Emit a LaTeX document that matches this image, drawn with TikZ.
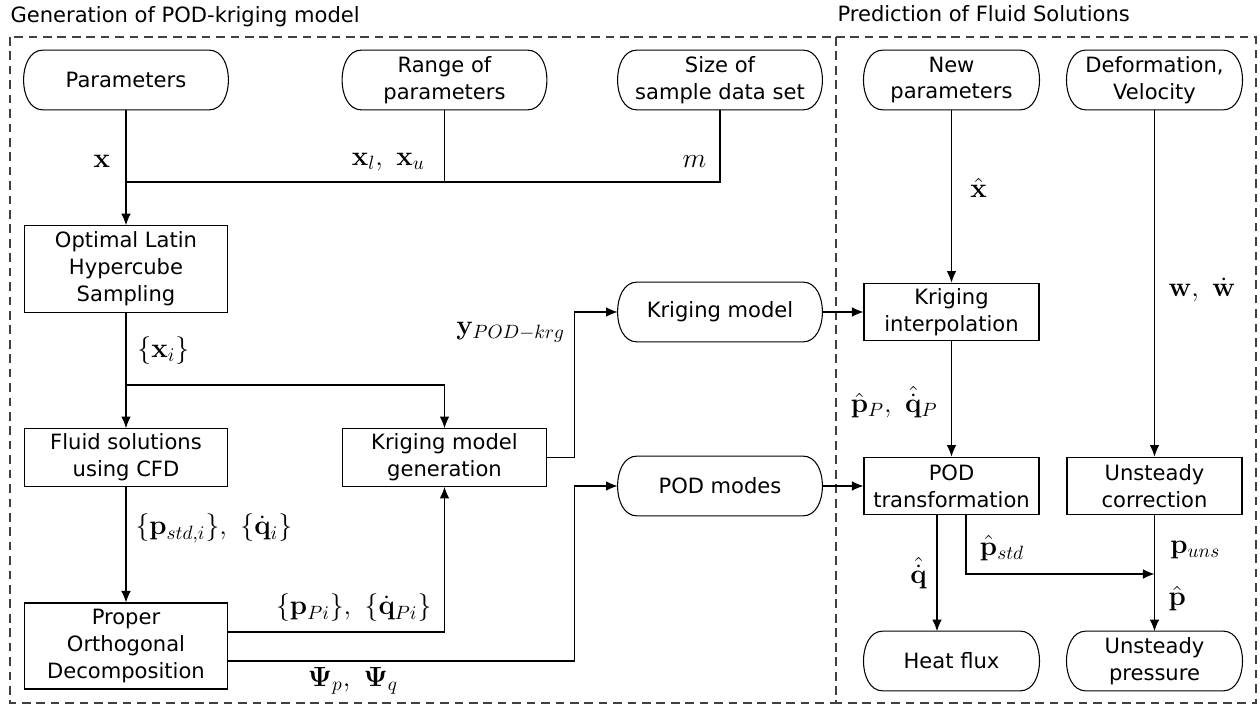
\documentclass[tikz,border=0pt]{standalone}
\usepackage{amsmath}
\usepackage[no-math]{fontspec}
\setmainfont{DejaVu Sans}
\usetikzlibrary{calc,arrows.meta}

\tikzset{
  term/.style={minimum width=106pt, minimum height=30.5pt, align=center, inner sep=2pt},
  blk/.style={draw, minimum width=106pt, minimum height=30pt, align=center, inner sep=2pt},
  lbl/.style={inner sep=0pt, font=\fontsize{14.4}{17}\selectfont},
  arr/.style={-{Latex[length=6pt,width=5pt]}},
  frame/.style={dash pattern=on 4.5pt off 3pt, black!75}
}

\begin{document}
\begin{tikzpicture}[x=0.52pt,y=-0.52pt,line width=0.55pt,font=\fontsize{10.95}{14}\selectfont]
	\useasboundingbox (0,0) rectangle (1260,705);
	% the two parts
	\draw[frame] (10,37) rectangle (836,703);
	\draw[frame] (836,37) rectangle (1256,703);
	\node[anchor=base west,inner sep=0pt] (tgen) at (10,23) {Generation of POD-kriging model};
	\node[anchor=base west,inner sep=0pt] (tpred) at (837,22) {Prediction of Fluid Solutions};

	% inputs
	\node[term] (param) at (126,80) {Parameters};
	\node[term] (range) at (444.5,80) {Range of\\parameters};
	\node[term] (size) at (720,80) {Size of\\sample data set};
	\node[term,minimum width=91pt] (newpar) at (951.5,80) {New\\parameters};
	\node[term,minimum width=91pt] (defvel) at (1154.5,80) {Deformation,\\Velocity};

	% steps
	\node[blk,minimum height=45pt] (olhs) at (126,269) {Optimal Latin\\Hypercube\\Sampling};
	\node[blk] (fluid) at (126,457.5) {Fluid solutions\\using CFD};
	\node[blk,minimum height=44.7pt] (pod) at (126,646) {Proper\\Orthogonal\\Decomposition};
	\node[blk] (kmg) at (444.5,457.5) {Kriging model\\generation};
	\node[term] (krgmodel) at (720,312) {Kriging model};
	\node[term] (podmodes) at (720,486) {POD modes};
	\node[blk,minimum width=91pt] (kinterp) at (951.5,312) {Kriging\\interpolation};
	\node[blk,minimum width=91pt] (podtrans) at (951.5,486) {POD\\transformation};
	\node[blk,minimum width=91pt] (uncorr) at (1154.5,486) {Unsteady\\correction};
	\node[term,minimum width=91pt] (heat) at (951.5,661) {Heat flux};
	\node[term,minimum width=91pt] (unpress) at (1154.5,661) {Unsteady\\pressure};

	% outlines of the terminals, elliptic ends
	\foreach \n in {param,range,size,newpar,defvel,krgmodel,podmodes,heat,unpress}
	\draw ([xshift=10pt]\n.north west) -- ([xshift=-10pt]\n.north east)
		.. controls ([xshift=3.33pt]\n.north east) and ([xshift=3.33pt]\n.south east) .. ([xshift=-10pt]\n.south east)
		-- ([xshift=10pt]\n.south west)
		.. controls ([xshift=-3.33pt]\n.south west) and ([xshift=-3.33pt]\n.north west) .. cycle;

	\coordinate (jx) at (126,182);
	\coordinate (jxi) at (126,385);
	\coordinate (jp) at (1154.5,574);

	% connectors
	\draw[arr] (param) -- node[lbl,pos=0.45,left=8pt] {$\mathbf{x}$} (olhs);
	\draw (range) -- node[lbl,pos=0.72,left=10pt] {$\mathbf{x}_l,\ \mathbf{x}_u$} (range |- jx);
	\draw (size) |- node[lbl,pos=0.36,left=6.8pt] {$m$} (jx);
	\draw[arr] (olhs) -- node[lbl,pos=0.33,right=5.7pt] {$\{\mathbf{x}_i\}$} (fluid);
	\draw[arr] (jxi) -| (kmg);
	\draw[arr] (fluid) -- node[lbl,pos=0.36,right=4.7pt] {$\{\mathbf{p}_{std,i}\},\ \{\dot{\mathbf{q}}_i\}$} (pod);
	\draw[arr] ($(pod.east)+(0,-14)$) -| node[lbl,pos=0.29,above=5pt] {$\{\mathbf{p}_{Pi}\},\ \{\dot{\mathbf{q}}_{Pi}\}$} (kmg);
	\draw[arr] ($(pod.east)+(0,15)$) -| node[lbl,pos=0.18,below=3pt] {$\mathbf{\Psi}_p,\ \mathbf{\Psi}_q$} ($(podmodes.west)+(-43,0)$) -- (podmodes);
	\draw[arr] (kmg) -| node[lbl,pos=0.93,left=4.7pt] {$\mathbf{y}_{POD-krg}$} ($(krgmodel.west)+(-43,0)$) -- (krgmodel);
	\draw[arr] (krgmodel) -- (kinterp);
	\draw[arr] (podmodes) -- (podtrans);
	\draw[arr] (newpar) -- node[lbl,pos=0.45,right=9.6pt] {$\hat{\mathbf{x}}$} (kinterp);
	\draw[arr] (kinterp) -- node[lbl,pos=0.53,left=7pt] {$\hat{\mathbf{p}}_P,\ \hat{\dot{\mathbf{q}}}_P$} (podtrans);
	\draw[arr] (defvel) -- node[lbl,pos=0.52,right=7pt] {$\mathbf{w},\ \dot{\mathbf{w}}$} (uncorr);
	\draw[arr] ($(podtrans.south)+(-14.5,0)$) -- node[lbl,pos=0.5,left=5pt] {$\hat{\dot{\mathbf{q}}}$} ($(heat.north)+(-14.5,0)$);
	\draw[arr] ($(podtrans.south)+(14.5,0)$) |- node[lbl,pos=0.28,right=7pt] {$\hat{\mathbf{p}}_{std}$} (jp);
	\draw[arr] (uncorr) -- node[lbl,pos=0.3,right=8pt] {$\mathbf{p}_{uns}$} node[lbl,pos=0.72,right=7pt] {$\hat{\mathbf{p}}$} (unpress);
\end{tikzpicture}
\end{document}
